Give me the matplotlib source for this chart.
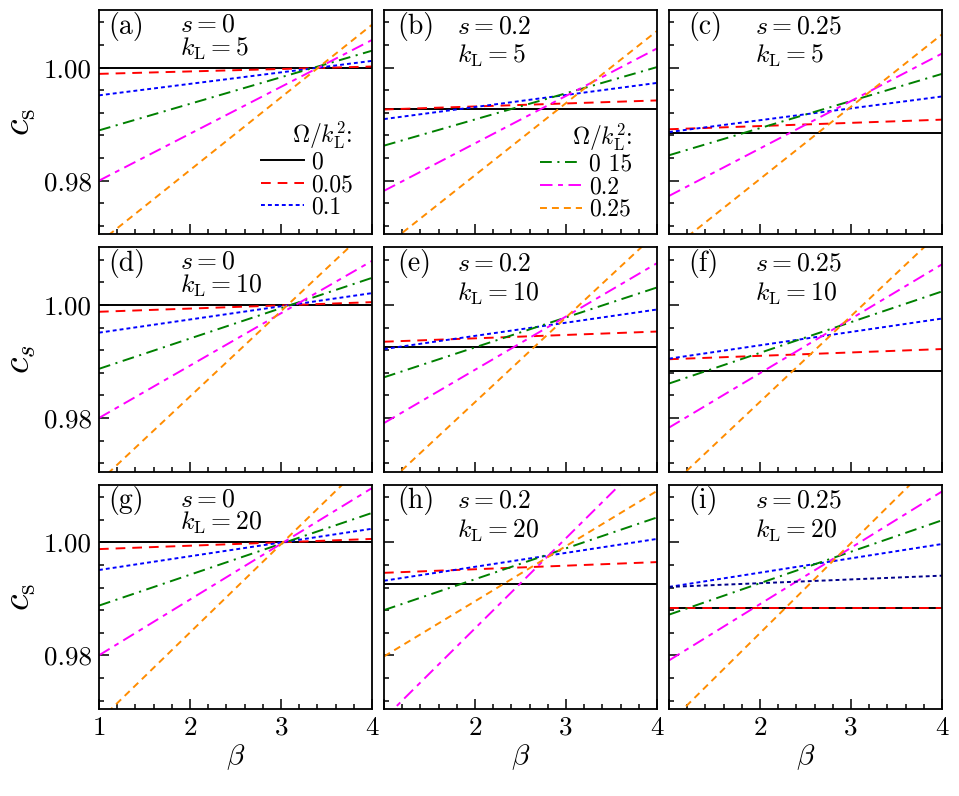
import matplotlib
matplotlib.use("Agg")
import matplotlib.pyplot as plt
from matplotlib.ticker import MultipleLocator, AutoMinorLocator, FormatStrFormatter

plt.rcParams["font.family"] = "serif"
plt.rcParams["font.serif"] = ["cmr10"]
plt.rcParams["mathtext.fontset"] = "cm"
plt.rcParams["axes.formatter.use_mathtext"] = True
plt.rcParams["lines.scale_dashes"] = False

# beta range (values read at the two ends of each line)
beta = [1, 4]

omega_labels = ["0", "0.05", "0.1", "0 15", "0.2", "0.25"]

panel_tags = ["(a)", "(b)", "(c)", "(d)", "(e)", "(f)", "(g)", "(h)", "(i)"]
s_values = ["0", "0.2", "0.25"]
kl_values = ["5", "10", "20"]
ylabels = [r"$c_\mathrm{s}$", r"$c_s$", r"$c_\mathrm{s}$"]

# c_s at beta = 1 and beta = 4, one entry per Omega/k_L^2 curve
cs_a = [[1.0, 1.0], [0.9989, 1.0002], [0.9951, 1.0012], [0.9889, 1.0030], [0.9800, 1.0049], [0.9690, 1.0076]]
cs_b = [[0.9926, 0.9926], [0.9926, 0.9942], [0.9909, 0.9973], [0.9862, 1.0001], [0.9782, 1.0034], [0.9682, 1.0065]]
cs_c = [[0.9884, 0.9884], [0.9891, 0.9908], [0.9886, 0.9949], [0.9845, 0.9989], [0.9773, 1.0025], [0.9675, 1.0059]]
cs_d = [[1.0, 1.0], [0.9988, 1.0005], [0.9951, 1.0021], [0.9887, 1.0048], [0.9800, 1.0078], [0.9687, 1.0140]]
cs_e = [[0.9925, 0.9925], [0.9935, 0.9953], [0.9922, 0.9992], [0.9872, 1.0031], [0.9791, 1.0074], [0.9678, 1.0128]]
cs_f = [[0.9884, 0.9884], [0.9904, 0.9922], [0.9905, 0.9976], [0.9861, 1.0024], [0.9783, 1.0072], [0.9677, 1.0132]]
cs_g = [[1.0, 1.0], [0.9988, 1.0006], [0.9951, 1.0024], [0.9888, 1.0052], [0.9800, 1.0096], [0.9684, 1.0153]]
cs_h = [[0.9926, 0.9926], [0.9946, 0.9965], [0.9932, 1.0006], [0.9880, 1.0044], [0.9688, 1.0167], [0.9798, 1.0091]]
cs_i = [[0.9884, 0.9884], [0.9884, 0.9884], [0.9921, 0.9997], [0.9872, 1.0039], [0.9791, 1.0090], [0.9680, 1.0158]]
cs_i_extra = [0.9921, 0.9941]  # second (dark blue) dotted line in panel (i)

all_cs = [cs_a, cs_b, cs_c, cs_d, cs_e, cs_f, cs_g, cs_h, cs_i]

colors = ["black", "red", "blue", "green", "magenta", "darkorange"]
dashes = [None, (7, 5), (2.8, 2.2), (8.5, 4, 1.5, 4), (9, 4, 3.5, 4), (5, 3.6)]

fig, axes = plt.subplots(3, 3, figsize=(9.59, 7.96))
plt.subplots_adjust(left=0.1032, right=0.9823, top=0.9874, bottom=0.1093,
                    wspace=0.044, hspace=0.058)

leg_kw = dict(loc="lower right", frameon=False, fontsize=17, title_fontsize=17,
              handlelength=1.8, handletextpad=0.3, labelspacing=0.02,
              borderaxespad=0, borderpad=0, alignment="right")

for k, ax in enumerate(axes.flat):
    row, col = divmod(k, 3)
    lines = []
    for j, vals in enumerate(all_cs[k]):
        if dashes[j] is None:
            ln, = ax.plot(beta, vals, color=colors[j], lw=1.4, label=omega_labels[j])
        else:
            ln, = ax.plot(beta, vals, color=colors[j], lw=1.4, dashes=dashes[j],
                          label=omega_labels[j])
        lines.append(ln)
    if k == 8:
        ax.plot(beta, cs_i_extra, color="#00008b", lw=1.4, dashes=(2.8, 2.2))

    ax.set_xlim(1, 4)
    ax.set_ylim(0.9705, 1.0102)
    ax.xaxis.set_major_locator(MultipleLocator(1))
    ax.xaxis.set_minor_locator(AutoMinorLocator(5))
    ax.yaxis.set_major_locator(MultipleLocator(0.02))
    ax.yaxis.set_minor_locator(AutoMinorLocator(5))
    ax.yaxis.set_major_formatter(FormatStrFormatter("%.2f"))
    ax.tick_params(which="both", direction="in", top=False, right=False,
                   labelsize=19.5, width=1.1,
                   labelbottom=(row == 2), labelleft=(col == 0))
    ax.tick_params(which="major", length=7, pad=5)
    ax.tick_params(which="minor", length=3.5)
    for sp in ax.spines.values():
        sp.set_linewidth(1.3)

    tag_x = [0.035, 0.05, 0.07][col]
    s_x = [0.296, 0.266, 0.314][col]
    s_y = 0.935 if col == 0 else 0.928
    k_y = 0.828 if col == 0 else 0.794
    ax.text(tag_x, 0.928, panel_tags[k], transform=ax.transAxes,
            fontsize=20, va="center", ha="left")
    ax.text(s_x, s_y, r"$s=%s$" % s_values[col], transform=ax.transAxes,
            fontsize=18.5, va="center", ha="left")
    ax.text(s_x, k_y, r"$k_\mathrm{L}=%s$" % kl_values[row], transform=ax.transAxes,
            fontsize=18.5, va="center", ha="left")

    if col == 0:
        ax.set_ylabel(ylabels[row], fontsize=27, labelpad=4)
    if row == 2:
        ax.set_xlabel(r"$\beta$", fontsize=21, labelpad=2)
        if col > 0:
            ax.set_xticks([1, 2, 3, 4], labels=["", "2", "3", "4"])

    if k == 0:
        ax.legend(handles=lines[:3], title=r"$\Omega/k_\mathrm{L}^2$:",
                  bbox_to_anchor=(0.93, 0.07), **leg_kw)
    if k == 1:
        ax.legend(handles=lines[3:], title=r"$\Omega/k_\mathrm{L}^2$:",
                  bbox_to_anchor=(0.91, 0.06), **leg_kw)

fig.savefig("out.png", dpi=100)
